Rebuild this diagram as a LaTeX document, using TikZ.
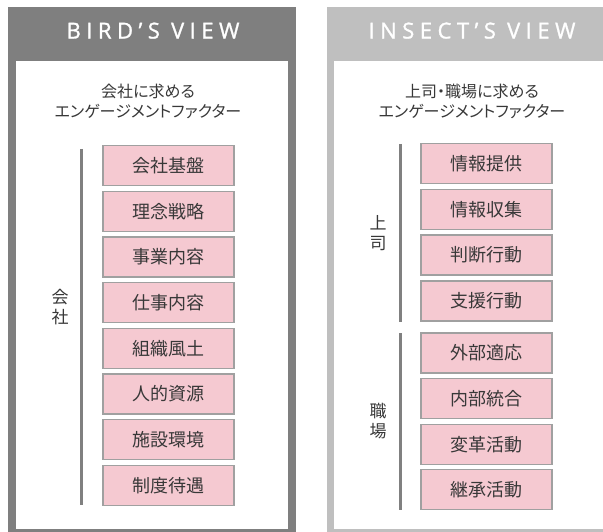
\documentclass[tikz,border=0pt]{standalone}
\usepackage{fontspec}
\setmainfont{Noto Sans CJK JP}
\newfontfamily\headfont{Open Sans}[LetterSpace=25, FakeBold=1.2]
\newfontfamily\subfont{Noto Sans CJK JP}[RawFeature=+palt]
\usetikzlibrary{positioning}
\definecolor{birdgray}{RGB}{127,127,127}
\definecolor{insectgray}{RGB}{191,191,191}
\definecolor{factorpink}{RGB}{245,201,209}
\definecolor{factorline}{RGB}{160,160,160}
\definecolor{inkgray}{RGB}{56,56,56}
\definecolor{bargray}{RGB}{128,128,128}

\tikzset{
  factor/.style={draw=factorline, line width=1.3pt, fill=factorpink, text=inkgray,
    minimum width=131pt, minimum height=40pt, inner sep=0pt,
    font=\fontsize{18}{18}\selectfont},
  headtext/.style={text=white, inner sep=0pt, font=\headfont\fontsize{22}{22}\selectfont},
  subtitle/.style={text=inkgray, align=center, inner sep=0pt,
    font=\subfont\fontsize{16}{19.5}\selectfont},
  sidelabel/.style={text=inkgray, align=center, inner sep=0pt,
    font=\fontsize{17}{20}\selectfont},
  bracket/.style={draw=bargray, line width=3pt}
}

\begin{document}
\begin{tikzpicture}[x=1pt, y=-1pt]
        \useasboundingbox (0,0) rectangle (603,531);
        \clip (0,0) rectangle (603,531);

        % frames
        \fill[birdgray] (8,7) rectangle (296,545);
        \fill[white] (16,61) rectangle (288,529);
        \fill[insectgray] (327,7) rectangle (625,545);
        \fill[white] (334,61) rectangle (625,529);

        % headers
        \node[headtext, anchor=base] (birdhead) at (153,38.5) {BIRD’S VIEW};
        \node[headtext, anchor=base] (insecthead) at (472,38.5) {INSECT’S VIEW};

        \node[subtitle] (birdsub) at (148,101.5) {会社に求める\\エンゲージメントファクター};
        \node[subtitle] (insectsub) at (472,101.5) {上司・職場に求める\\エンゲージメントファクター};

        % company factors
        \foreach \lbl [count=\i] in {会社基盤, 理念戦略, 事業内容, 仕事内容,
                                     組織風土, 人的資源, 施設環境, 制度待遇}{
          \node[factor] (bird\i) at (168.5, {165.5+45.7*(\i-1)}) {\lbl};
        }
        % boss factors
        \foreach \lbl [count=\i] in {情報提供, 情報収集, 判断行動, 支援行動}{
          \node[factor] (boss\i) at (486.5, {163.5+45.8*(\i-1)}) {\lbl};
        }
        % workplace factors
        \foreach \lbl [count=\i] in {外部適応, 内部統合, 変革活動, 継承活動}{
          \node[factor] (work\i) at (486.5, {353+45.6*(\i-1)}) {\lbl};
        }

        % brackets
        \draw[bracket] ([xshift=-21pt, yshift=-4pt]bird1.north west) -- ([xshift=-21pt, yshift=1pt]bird8.south west);
        \draw[bracket] ([xshift=-20pt, yshift=-1pt]boss1.north west) -- ([xshift=-20pt]boss4.south west);
        \draw[bracket] ([xshift=-20pt, yshift=-1pt]work1.north west) -- ([xshift=-20pt]work4.south west);

        \node[sidelabel] (birdside) at (60,307) {会\\社};
        \node[sidelabel] (bossside) at (378,233) {上\\司};
        \node[sidelabel] (workside) at (378,421) {職\\場};
      \end{tikzpicture}
\end{document}
